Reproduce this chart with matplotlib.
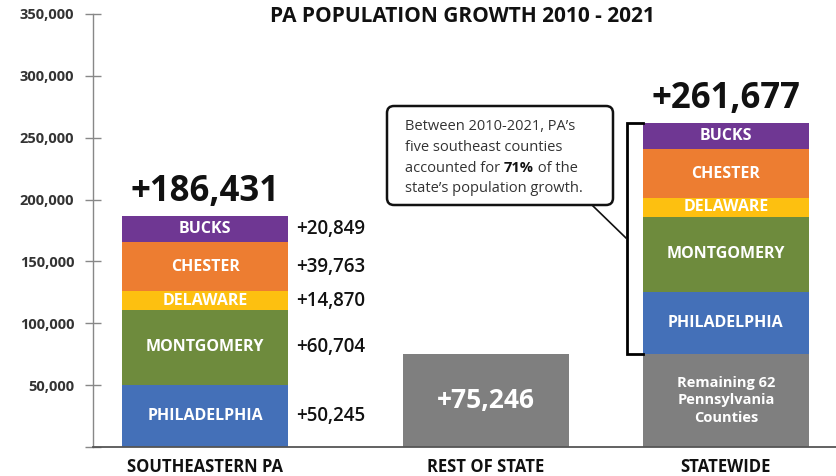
import matplotlib.pyplot as plt
from matplotlib.patches import FancyBboxPatch
from matplotlib.lines import Line2D
import matplotlib.transforms as mtrans

plt.rcParams['font.family'] = ['Open Sans', 'DejaVu Sans']

# growth 2010 - 2021
categories = ['SOUTHEASTERN PA', 'REST OF STATE', 'STATEWIDE']
counties = ['PHILADELPHIA', 'MONTGOMERY', 'DELAWARE', 'CHESTER', 'BUCKS']
county_growth = [50245, 60704, 14870, 39763, 20849]
rest_growth = 75246
rest_label = 'Remaining 62\nPennsylvania\nCounties'
yticks = [0, 50000, 100000, 150000, 200000, 250000, 300000, 350000]

county_colors = ['#4470b8', '#6e8b3d', '#fdc010', '#ed7d31', '#6f3793']
gray = '#7f7f7f'

se_total = sum(county_growth)
state_total = se_total + rest_growth
share = round(se_total / state_total * 100)

# bar layout (x positions are uneven on purpose)
xpos = [0.0, 1.17, 2.17]
width = 0.69

fig = plt.figure(figsize=(8.36, 4.76), dpi=100)
ax = fig.add_axes([93/836, 29/476, 743/836, 433/476])
ax.set_xlim(-0.467, 2.629)
ax.set_ylim(0, 350000)

# southeastern PA stack, with values to the right
bottom = 0
for name, val, col in zip(counties, county_growth, county_colors):
    ax.bar(xpos[0], val, width, bottom=bottom, color=col, linewidth=0)
    mid = bottom + val / 2
    ax.text(xpos[0], mid, name, ha='center', va='center', color='white',
            fontsize=11.5, fontweight='bold')
    ax.annotate('+{:,}'.format(val), (xpos[0] + width/2, mid),
                xytext=(6, 0), textcoords='offset points',
                ha='left', va='center', fontsize=13.5, fontweight='semibold',
                color='#111111')
    bottom += val

# rest of state
ax.bar(xpos[1], rest_growth, width, color=gray, linewidth=0)
ax.text(xpos[1], rest_growth / 2, '+{:,}'.format(rest_growth), ha='center',
        va='center', color='white', fontsize=19, fontweight='bold')

# statewide stack
ax.bar(xpos[2], rest_growth, width, color=gray, linewidth=0)
ax.text(xpos[2], rest_growth / 2, rest_label, ha='center', va='center',
        color='white', fontsize=10.5, fontweight='bold', linespacing=1.3)
bottom = rest_growth
for name, val, col in zip(counties, county_growth, county_colors):
    ax.bar(xpos[2], val, width, bottom=bottom, color=col, linewidth=0)
    ax.text(xpos[2], bottom + val / 2, name, ha='center', va='center',
            color='white', fontsize=11.5, fontweight='bold')
    bottom += val

# totals above the stacks
for x, tot in [(xpos[0], se_total), (xpos[2], state_total)]:
    ax.annotate('+{:,}'.format(tot), (x, tot), xytext=(0, 11),
                textcoords='offset points', ha='center', va='baseline',
                fontsize=25, fontweight='bold', color='#111111')

# category labels, sitting right at the bottom edge
trans = mtrans.blended_transform_factory(ax.transData, ax.transAxes)
for x, cat in zip(xpos, categories):
    ax.text(x, -0.058, cat, transform=trans, ha='center', va='baseline',
            fontsize=12, fontweight='bold', color='#111111')

# axes styling
ax.set_yticks(yticks)
ax.set_yticklabels(['' if t == 0 else '{:,}'.format(t) for t in yticks])
ax.set_xticks([])
ax.tick_params(axis='y', direction='inout', length=11, width=1,
               color='#888888', pad=8, labelsize=10.5, labelcolor='#333333')
for lab in ax.get_yticklabels():
    lab.set_fontweight('bold')
for s in ['top', 'right']:
    ax.spines[s].set_visible(False)
ax.spines['left'].set_color('#888888')
ax.spines['left'].set_linewidth(1)
ax.spines['bottom'].set_color('#555555')
ax.spines['bottom'].set_linewidth(1.3)

fig.text(462/836, 1 - 17/476, 'PA POPULATION GROWTH 2010 - 2021',
         ha='center', va='center', fontsize=15, fontweight='bold',
         color='#111111')

# bracket around the southeast counties in the statewide bar
left = xpos[2] - width / 2
gap = 0.067
ax.plot([left, left - gap, left - gap, left],
        [state_total, state_total, rest_growth, rest_growth],
        color='black', lw=2, clip_on=False, solid_joinstyle='miter')

# callout box (inches from the lower left corner)
px = fig.dpi_scale_trans
def inch(x, y):
    return x / 100, (476 - y) / 100

bx, by = inch(387, 205)
box = FancyBboxPatch((bx, by), 2.26, 0.99,
                     boxstyle='round,pad=0,rounding_size=0.07',
                     transform=px, facecolor='white', edgecolor='#111111',
                     lw=1.8, zorder=5)
fig.add_artist(box)
fig.add_artist(Line2D(*zip(inch(593, 206), inch(626, 238)), transform=px,
                      color='#111111', lw=1.2))

txt = dict(transform=px, fontsize=10.5, color='#333333', va='center',
           ha='left', zorder=6)
lines = ["Between 2010-2021, PA\u2019s", 'five southeast counties', None,
         'state\u2019s population growth.']
for i, line in enumerate(lines):
    tx, ty = inch(405, 127 + i * 20.5)
    if line is None:
        t1 = fig.text(tx, ty, 'accounted for ', **txt)
        fig.canvas.draw()
        bb = t1.get_window_extent()
        t2 = fig.text(bb.x1 / 100, ty, '{}%'.format(share),
                      **dict(txt, fontweight='bold', color='#111111'))
        fig.canvas.draw()
        bb2 = t2.get_window_extent()
        fig.text(bb2.x1 / 100, ty, ' of the', **txt)
    else:
        fig.text(tx, ty, line, **txt)

fig.savefig('out.png', dpi=100)
